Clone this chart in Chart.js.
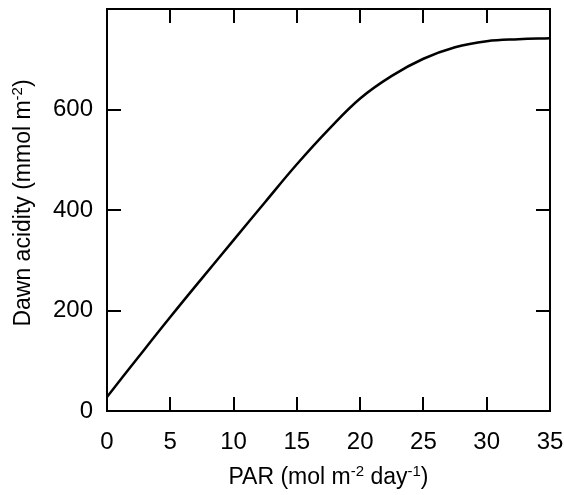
<!DOCTYPE html>
<html>
<head>
<meta charset="utf-8">
<script src="https://cdn.jsdelivr.net/npm/chart.js"></script>
<style>
  html, body { margin: 0; padding: 0; background: #fff; }
  #wrap { width: 564px; height: 495px; }
</style>
</head>
<body>
<div id="wrap"><canvas id="chart" width="564" height="495"></canvas></div>
<script>
// PAR (mol m-2 day-1) vs dawn acidity (mmol m-2)
const parValues = [0, 2.5, 5, 7.5, 10, 12.5, 15, 17.5, 20, 22.5, 25, 27.5, 30, 32.5, 35];
const acidity = [28, 108, 187, 264, 340, 416, 491, 560, 622, 667, 701, 724, 736, 740, 742];

const xTicks = [0, 5, 10, 15, 20, 25, 30, 35];
const yTicks = [0, 200, 400, 600, 800];
const yLabelHidden = [800];

const FONT = '"Liberation Sans", Arial, Helvetica, sans-serif';
const INK = '#000';

// title pieces so the exponents can be drawn raised and smaller
const xTitle = [{ t: 'PAR (mol m' }, { t: '-2', sup: true }, { t: ' day' }, { t: '-1', sup: true }, { t: ')' }];
const yTitle = [{ t: 'Dawn acidity (mmol m' }, { t: '-2', sup: true }, { t: ')' }];

function drawRich(ctx, parts, size) {
  const supSize = Math.round(size * 0.65);
  let total = 0;
  parts.forEach((p) => {
    ctx.font = (p.sup ? supSize : size) + 'px ' + FONT;
    p.w = ctx.measureText(p.t).width;
    total += p.w;
  });
  let x = -total / 2;
  parts.forEach((p) => {
    ctx.font = (p.sup ? supSize : size) + 'px ' + FONT;
    ctx.fillText(p.t, x, p.sup ? -size * 0.36 : 0);
    x += p.w;
  });
}

// box, inward ticks on all four sides, and the axis titles
const framePlugin = {
  id: 'frame',
  afterDraw(chart) {
    const { ctx, chartArea: a, scales } = chart;
    const tl = 14;
    ctx.save();
    ctx.strokeStyle = INK;
    ctx.lineWidth = 2;
    ctx.strokeRect(a.left, a.top, a.right - a.left, a.bottom - a.top);
    ctx.beginPath();
    xTicks.forEach((v) => {
      const px = Math.round(scales.x.getPixelForValue(v));
      ctx.moveTo(px, a.bottom); ctx.lineTo(px, a.bottom - tl);
      ctx.moveTo(px, a.top); ctx.lineTo(px, a.top + tl);
    });
    yTicks.forEach((v) => {
      const py = Math.round(scales.y.getPixelForValue(v));
      ctx.moveTo(a.left, py); ctx.lineTo(a.left + tl, py);
      ctx.moveTo(a.right, py); ctx.lineTo(a.right - tl, py);
    });
    ctx.stroke();

    ctx.fillStyle = INK;
    ctx.textBaseline = 'alphabetic';
    ctx.textAlign = 'left';
    ctx.save();
    ctx.translate((a.left + a.right) / 2, 484);
    drawRich(ctx, xTitle, 23);
    ctx.restore();
    ctx.save();
    ctx.translate(30, 203);
    ctx.rotate(-Math.PI / 2);
    drawRich(ctx, yTitle, 23);
    ctx.restore();
    ctx.restore();
  }
};

const points = parValues.map((x, i) => ({ x: x, y: acidity[i] }));
const tickFont = { family: FONT, size: 24 };

new Chart(document.getElementById('chart'), {
  type: 'scatter',
  data: {
    datasets: [{
      data: points,
      showLine: true,
      borderColor: INK,
      borderWidth: 2.5,
      pointRadius: 0,
      fill: false,
      tension: 0.4
    }]
  },
  options: {
    responsive: false,
    animation: false,
    devicePixelRatio: 1,
    layout: { padding: { top: 9, right: 14, left: 0, bottom: 0 } },
    plugins: { legend: { display: false }, tooltip: { enabled: false } },
    scales: {
      x: {
        type: 'linear',
        min: 0,
        max: 35,
        afterBuildTicks: (s) => { s.ticks = xTicks.map((v) => ({ value: v })); },
        ticks: { color: INK, font: tickFont, padding: 17, maxRotation: 0, autoSkip: false },
        grid: { display: false, drawTicks: false },
        border: { display: false },
        afterFit: (s) => { s.height = 84; s.paddingLeft = 0; s.paddingRight = 0; }
      },
      y: {
        min: 0,
        max: 800,
        afterBuildTicks: (s) => { s.ticks = yTicks.map((v) => ({ value: v })); },
        ticks: {
          color: INK,
          font: tickFont,
          padding: 14,
          callback: (v) => (yLabelHidden.includes(v) ? '' : v)
        },
        grid: { display: false, drawTicks: false },
        border: { display: false },
        afterFit: (s) => { s.width = 107; s.paddingTop = 0; s.paddingBottom = 0; }
      }
    }
  },
  plugins: [framePlugin]
});
</script>
</body>
</html>
